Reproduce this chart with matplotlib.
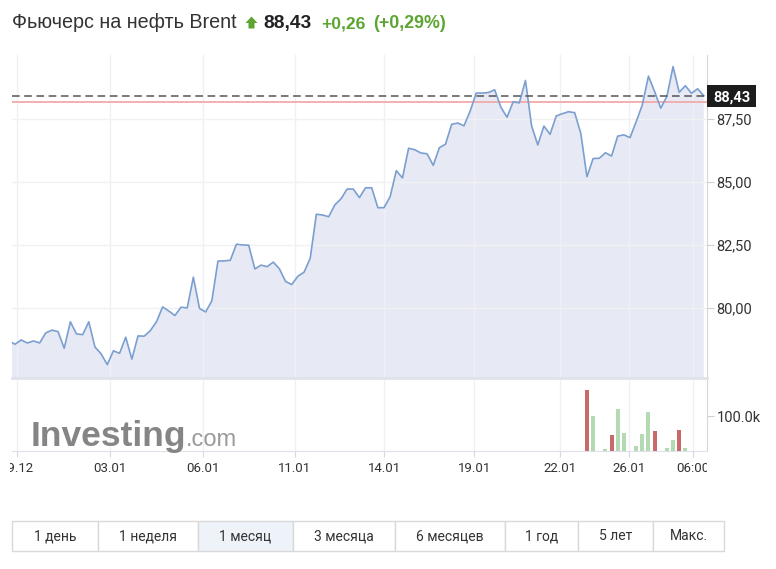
import matplotlib
matplotlib.use("Agg")
import matplotlib.pyplot as plt
from matplotlib.patches import Rectangle, Polygon
from matplotlib.transforms import Bbox, TransformedBbox
import numpy as np

# ---------------- data ----------------
prices = [78.71, 78.57, 78.74, 78.62, 78.70, 78.62, 79.02, 79.13, 79.07, 78.41,
          79.46, 78.98, 78.95, 79.46, 78.46, 78.19, 77.76, 78.31, 78.21, 78.85,
          77.98, 78.90, 78.89, 79.11, 79.46, 80.05, 79.89, 79.71, 80.04, 80.01,
          81.23, 79.99, 79.85, 80.29, 81.87, 81.88, 81.90, 82.54, 82.51, 82.50,
          81.56, 81.71, 81.65, 81.83, 81.56, 81.06, 80.94, 81.27, 81.43, 81.98,
          83.73, 83.70, 83.63, 84.10, 84.34, 84.73, 84.73, 84.39, 84.78, 84.78,
          83.99, 83.99, 84.43, 85.46, 85.17, 86.35, 86.29, 86.16, 86.13, 85.67,
          86.37, 86.51, 87.30, 87.35, 87.24, 87.82, 88.54, 88.54, 88.56, 88.67,
          87.98, 87.58, 88.19, 88.15, 89.04, 87.24, 86.48, 87.23, 86.90, 87.63,
          87.72, 87.80, 87.76, 86.94, 85.22, 85.94, 85.95, 86.17, 86.04, 86.83,
          86.88, 86.77, 87.40, 88.07, 89.21, 88.60, 87.94, 88.41, 89.59, 88.57,
          88.83, 88.53, 88.71, 88.43]
# volume (thousands) for the last points of the series
volume_tail = [174.5, 101, 0, 6, 46, 120, 51, 0, 13, 50, 112, 57, 0, 9, 31, 61, 9, 0, 0, 0]
last_price = 88.43
prev_close = 88.17
change = "+0,26"
change_pct = "(+0,29%)"
title = "Фьючерс на нефть Brent"
x_tick_labels = ["29.12", "03.01", "06.01", "11.01", "14.01", "19.01", "22.01", "26.01", "06:00"]
y_ticks = [80.0, 82.5, 85.0, 87.5]
buttons = ["1 день", "1 неделя", "1 месяц", "3 месяца", "6 месяцев", "1 год", "5 лет", "Макс."]
selected = "1 месяц"

# ---------------- layout ----------------
W, H = 776, 569
x_tick_pos = [1.4, 16.45, 31.5, 46.5, 61.0, 75.7, 89.6, 100.8, 111.3]
button_edges = [12, 97.5, 198, 292.5, 395, 505, 578, 653, 724]

def fx(x):
    return x / W

def fy(y):
    return 1 - y / H

fig = plt.figure(figsize=(W / 100, H / 100), dpi=100)
fig.patch.set_facecolor("white")
plt.rcParams["font.family"] = ["Roboto", "DejaVu Sans"]

L, R = 12, 707
ax = fig.add_axes([fx(L), fy(378), (R - L) / W, (378 - 55) / H])
axv = fig.add_axes([fx(L), fy(451), (R - L) / W, (451 - 380) / H])

x = np.arange(len(prices))
line_col = "#7b9fd0"
ax.fill_between(x, prices, 0, color="#e7eaf4", lw=0, zorder=1)
ax.plot(x, prices, color=line_col, lw=1.2, zorder=3)
ax.axhline(prev_close, color="#f4a9a9", lw=1.3, zorder=2)
ax.axhline(last_price, color="#555555", lw=1.1, ls=(0, (5, 3)), zorder=4)

ax.set_xlim(0.51, 113.52)
ax.set_ylim(77.23, 90.05)
ax.set_xticks(x_tick_pos)
ax.tick_params(axis="x", length=0, labelbottom=False)
ax.yaxis.tick_right()
ax.set_yticks(y_ticks, [f"{v:.2f}".replace(".", ",") for v in y_ticks])
ax.tick_params(axis="y", length=5, color="#cfcfcf", labelsize=10.5, labelcolor="#333333", pad=2)
ax.grid(True, axis="y", color="#f1f1f1", lw=1, zorder=0)
ax.grid(True, axis="x", color="#eef0f5", lw=1, zorder=0)
for s in ["left", "top"]:
    ax.spines[s].set_visible(False)
ax.spines["right"].set_color("#d6d6d6")
ax.spines["bottom"].set_color("#dfe2e8")
ax.spines["bottom"].set_linewidth(2)

# last price box
ax.add_patch(Rectangle((1.0, last_price - 0.44), 49 / (R - L), 0.88,
                       transform=ax.get_yaxis_transform(), clip_on=False,
                       fc="#1c1c1c", ec="none", zorder=5))
ax.text(1.0 + 24.5 / (R - L), last_price, f"{last_price:.2f}".replace(".", ","),
        transform=ax.get_yaxis_transform(), ha="center", va="center_baseline",
        color="white", fontsize=10.5, fontweight="bold", zorder=6, clip_on=False)

# volume
vx = x[-len(volume_tail):]
vcols = []
for i in vx:
    vcols.append("#c86a6a" if prices[i] < prices[i - 1] else "#b3dab3")
axv.bar(vx, np.array(volume_tail) * 1000, width=0.65, color=vcols, zorder=3)
axv.set_xlim(ax.get_xlim())
axv.set_ylim(0, 203000)
axv.yaxis.tick_right()
axv.set_yticks([100000], ["100.0k"])
axv.tick_params(axis="y", length=5, color="#cfcfcf", labelsize=10.5, labelcolor="#333333", pad=2)
axv.set_xticks(x_tick_pos, x_tick_labels)
axv.tick_params(axis="x", length=4, color="#d5d9e0", labelsize=9.5, labelcolor="#333333", pad=4)
axv.grid(True, axis="x", color="#eef0f5", lw=1, zorder=0)
for s in ["left", "top"]:
    axv.spines[s].set_visible(False)
axv.spines["right"].set_color("#d6d6d6")
axv.spines["bottom"].set_color("#dde2ea")

clip = TransformedBbox(Bbox([[fx(10), 0], [fx(R), 1]]), fig.transFigure)
for lab in axv.get_xticklabels():
    lab.set_clip_on(True)
    lab.set_clip_box(clip)

# logo
fig.text(fx(31), fy(446), "Investing", fontsize=25.5, fontweight="bold", color="#858585",
         family=["Liberation Sans"], va="baseline", ha="left")
fig.text(fx(186), fy(446), ".com", fontsize=17, color="#9a9a9a",
         family=["Liberation Sans"], va="baseline", ha="left")

# title
green = "#5ba530"
fig.text(fx(12), fy(28.3), title, fontsize=14.2, color="#333333",
         family=["Liberation Sans", "DejaVu Sans"], va="baseline", ha="left")
arrow = Polygon([(fx(245.5), fy(23)), (fx(251.5), fy(16.5)), (fx(257.5), fy(23)),
                 (fx(254.5), fy(23)), (fx(254.5), fy(28.5)), (fx(248.5), fy(28.5)),
                 (fx(248.5), fy(23))], closed=True, transform=fig.transFigure,
                fc=green, ec="none")
fig.add_artist(arrow)
fig.text(fx(263), fy(28.3), f"{last_price:.2f}".replace(".", ","), fontsize=13.8, fontweight="bold",
         color="#222222", family=["Liberation Sans"], va="baseline", ha="left")
fig.text(fx(321), fy(28.3), change, fontsize=12.6, fontweight="bold",
         color=green, family=["Liberation Sans"], va="baseline", ha="left")
fig.text(fx(373), fy(28.3), change_pct, fontsize=12.8, fontweight="bold",
         color=green, family=["Liberation Sans"], va="baseline", ha="left")

# period buttons
top, bot = 520.5, 550.5
for i, lab in enumerate(buttons):
    x0, x1 = button_edges[i], button_edges[i + 1]
    fc = "#eef2f9" if lab == selected else "white"
    fig.add_artist(Rectangle((fx(x0), fy(bot)), (x1 - x0) / W, (bot - top) / H,
                             transform=fig.transFigure, fc=fc, ec="#d9d9d9", lw=1))
    fig.text(fx((x0 + x1) / 2), fy((top + bot) / 2 + 1), lab, fontsize=10, color="#333333",
             family=["Roboto", "DejaVu Sans"], ha="center", va="center")

fig.savefig("out.png", dpi=100, facecolor="white")
